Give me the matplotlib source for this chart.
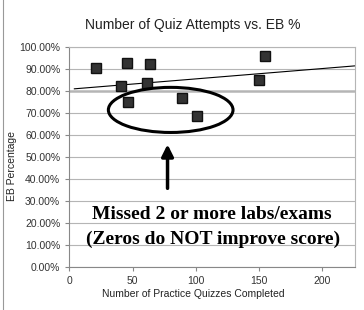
import matplotlib.pyplot as plt
import matplotlib.patches as mpatches
import numpy as np

# practice quizzes completed vs EB percentage
quizzes = [21, 45.5, 63.5, 40.5, 61.5, 46.5, 155, 150, 89, 101]
eb_pct = [0.906, 0.929, 0.923, 0.824, 0.835, 0.749, 0.959, 0.849, 0.770, 0.688]

# trendline as shown on the chart
trend_intercept = 0.808
trend_slope = 0.00047

y_ticks = np.arange(0, 1.01, 0.1)
x_ticks = [0, 50, 100, 150, 200]

note_lines = ["Missed 2 or more labs/exams", "(Zeros do NOT improve score)"]

fig = plt.figure(figsize=(3.64, 3.10), dpi=100)
ax = fig.add_axes([0.1904, 0.1387, 0.7849, 0.7097])

grid_col = "#b5b5b5"
for yv in y_ticks:
    lw = 1.8 if abs(yv - 0.8) < 1e-6 else 0.8
    ax.axhline(yv, color=grid_col, linewidth=lw, zorder=0)

xs = np.array([4, 226])
ax.plot(xs, trend_intercept + trend_slope * xs, color="black", linewidth=0.8, zorder=2)

ax.plot(quizzes, eb_pct, linestyle="none", marker="s", markersize=6.5,
        markerfacecolor="#333333", markeredgecolor="#111111", zorder=3)

# ellipse around the low scorers
ell = mpatches.Ellipse((80.2, 0.714), 98.6, 0.205, fill=False,
                       edgecolor="black", linewidth=2.2, zorder=4)
ax.add_patch(ell)

ax.annotate("", xy=(77.7, 0.57), xytext=(77.7, 0.345),
            arrowprops=dict(arrowstyle="-|>,head_width=0.35,head_length=0.7",
                            color="black", linewidth=2.5), zorder=5)

ax.text(112.8, 0.24, note_lines[0], ha="center", va="center",
        family="Liberation Serif", fontweight="bold", fontsize=14)
ax.text(113.9, 0.127, note_lines[1], ha="center", va="center",
        family="Liberation Serif", fontweight="bold", fontsize=14)

ax.set_xlim(0, 226)
ax.set_ylim(0, 1.0)
ax.set_xticks(x_ticks)
ax.set_yticks(y_ticks)
ax.set_yticklabels([f"{v * 100:.2f}%" for v in y_ticks])
ax.tick_params(axis="both", labelsize=7.5, colors="#333333", length=3, width=0.8,
               color="#888888")
for lab in ax.get_xticklabels() + ax.get_yticklabels():
    lab.set_family("Liberation Sans")

for side in ["top", "right"]:
    ax.spines[side].set_color(grid_col)
    ax.spines[side].set_linewidth(0.8)
for side in ["left", "bottom"]:
    ax.spines[side].set_color("#888888")
    ax.spines[side].set_linewidth(0.8)

fig.text(193 / 364, 1 - 25 / 310, "Number of Quiz Attempts vs. EB %",
         family="Liberation Sans", fontsize=10, color="#222222",
         ha="center", va="center")
ax.set_xlabel("Number of Practice Quizzes Completed", family="Liberation Sans",
              fontsize=7.5, color="#222222")
ax.xaxis.set_label_coords(0.433, -0.1)
ax.set_ylabel("EB Percentage", family="Liberation Sans", fontsize=7.5,
              color="#222222")
ax.yaxis.set_label_coords(-0.183, 0.46)

fig.add_artist(plt.Line2D([3 / 364, 3 / 364], [0, 1], color="#999999",
                          linewidth=0.8))

fig.savefig("out.png", dpi=100)
